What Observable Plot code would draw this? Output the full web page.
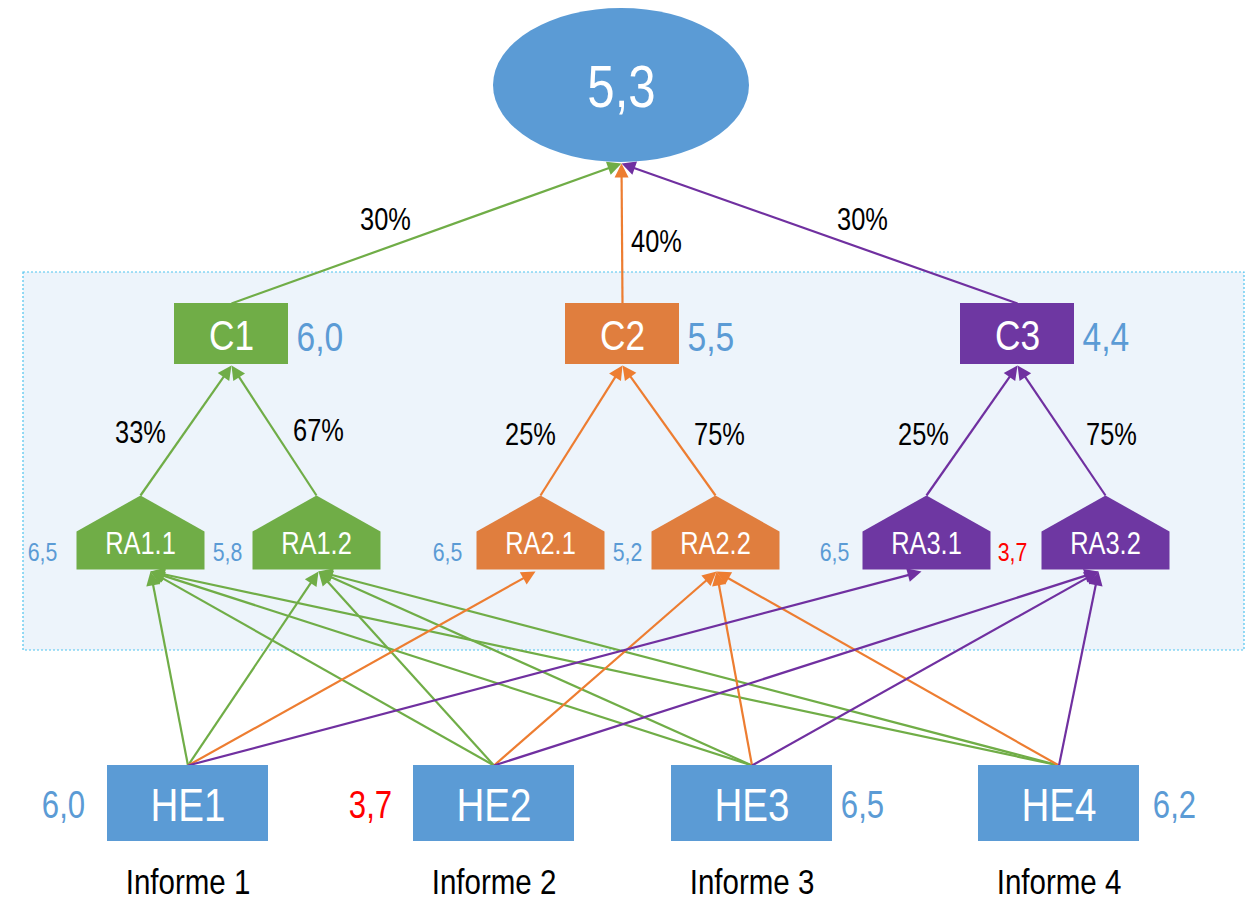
<!DOCTYPE html>
<html><head><meta charset="utf-8">
<script src="https://cdn.jsdelivr.net/npm/d3@7"></script>
<script src="https://cdn.jsdelivr.net/npm/@observablehq/plot@0.6"></script>
<style>
html,body{margin:0;padding:0;background:#fff;}
#chart svg{display:block;}
</style></head><body><div id="chart"></div>
<script>
// ---------------- data ----------------
const totalScore = "5,3";
const criteria = ["C1", "C2", "C3"];
const criteriaScores = ["6,0", "5,5", "4,4"];
const criteriaWeights = ["30%", "40%", "30%"];
const outcomes = ["RA1.1", "RA1.2", "RA2.1", "RA2.2", "RA3.1", "RA3.2"];
const outcomeParents = ["C1", "C1", "C2", "C2", "C3", "C3"];
const outcomeScores = ["6,5", "5,8", "6,5", "5,2", "6,5", "3,7"];
const outcomeWeights = ["33%", "67%", "25%", "75%", "25%", "75%"];
const evidences = ["HE1", "HE2", "HE3", "HE4"];
const evidenceScores = ["6,0", "3,7", "6,5", "6,2"];
const reports = ["Informe 1", "Informe 2", "Informe 3", "Informe 4"];
const evidenceLinks = [
  ["HE1", "RA1.1"], ["HE2", "RA1.1"], ["HE3", "RA1.1"], ["HE4", "RA1.1"],
  ["HE1", "RA1.2"], ["HE2", "RA1.2"], ["HE3", "RA1.2"], ["HE4", "RA1.2"],
  ["HE1", "RA2.1"], ["HE2", "RA2.2"], ["HE3", "RA2.2"], ["HE4", "RA2.2"],
  ["HE1", "RA3.1"], ["HE2", "RA3.2"], ["HE3", "RA3.2"], ["HE4", "RA3.2"]
];
const lowScoreLimit = 4; // scores under this are shown in red

// ---------------- layout & style (pixels) ----------------
const FONT = "'Liberation Sans Narrow', 'Arial Narrow', 'Liberation Sans', Arial, sans-serif";
const NARROW = 0.82; // horizontal condensing of the text (Arial Narrow look)
const lineColor = {C1: "#70AD47", C2: "#ED7D31", C3: "#7030A0"};
const boxColor = {C1: "#70AD47", C2: "#E07E3E", C3: "#6E37A2"};
const blue = "#5B9BD5";
const layout = {
  total: {cx: 621, cy: 85, rx: 128, ry: 77, tipY: 163},
  frame: {x1: 23, x2: 1244, y1: 272, y2: 650},
  C: {cx: {C1: 231, C2: 622, C3: 1017}, w: 114, y1: 303, y2: 364,
      weightPos: {C1: [385, 220], C2: [656, 242], C3: [862, 220]}},
  RA: {cx: {"RA1.1": 140, "RA1.2": 316, "RA2.1": 540, "RA2.2": 715, "RA3.1": 926, "RA3.2": 1105},
       tip: {"RA1.1": 150, "RA1.2": 318, "RA2.1": 535, "RA2.2": 716, "RA3.1": 921, "RA3.2": 1098},
       scoreX: {"RA1.1": 42, "RA1.2": 227, "RA2.1": 447, "RA2.2": 627, "RA3.1": 834, "RA3.2": 1012},
       weightPos: {"RA1.1": [140, 433], "RA1.2": [318, 431], "RA2.1": [530, 435], "RA2.2": [719, 435], "RA3.1": [923, 435], "RA3.2": [1111, 435]},
       w: 128, top: 495, shoulder: 531, bottom: 569},
  HE: {x1: {HE1: 107, HE2: 413, HE3: 671, HE4: 978}, w: 161, y1: 765, y2: 841,
       scoreX: {HE1: 63, HE2: 370, HE3: 862, HE4: 1174}}
};
const headLen = 14, headHalf = 7;

// ---------------- build geometry from data + layout ----------------
const scoreColor = s => (parseFloat(s.replace(",", ".")) < lowScoreLimit ? "#FF0000" : blue);
const heCx = id => layout.HE.x1[id] + layout.HE.w / 2;

const edges = [];
criteria.forEach((c, i) => edges.push({
  id: "T" + c, x1: layout.C.cx[c], y1: layout.C.y1, x2: layout.total.cx, y2: layout.total.tipY,
  color: lineColor[c]
}));
outcomes.forEach((r, i) => edges.push({
  id: "C" + r, x1: layout.RA.cx[r], y1: layout.RA.top, x2: layout.C.cx[outcomeParents[i]], y2: layout.C.y2 + 1,
  color: lineColor[outcomeParents[i]]
}));
evidenceLinks.forEach(([h, r]) => edges.push({
  id: h + r, x1: heCx(h), y1: layout.HE.y1, x2: layout.RA.tip[r], y2: layout.RA.bottom + 2,
  color: lineColor[outcomeParents[outcomes.indexOf(r)]]
}));

const shafts = [], heads = [];
for (const e of edges) {
  const dx = e.x2 - e.x1, dy = e.y2 - e.y1, L = Math.hypot(dx, dy);
  const ux = dx / L, uy = dy / L, nx = -uy, ny = ux;
  const bx = e.x2 - ux * headLen, by = e.y2 - uy * headLen;
  shafts.push({...e, x2: e.x2 - ux * (headLen - 3), y2: e.y2 - uy * (headLen - 3)});
  heads.push({id: e.id, color: e.color, x: e.x2, y: e.y2});
  heads.push({id: e.id, color: e.color, x: bx + nx * headHalf, y: by + ny * headHalf});
  heads.push({id: e.id, color: e.color, x: bx - nx * headHalf, y: by - ny * headHalf});
}

const pentagons = [];
outcomes.forEach((r, i) => {
  const cx = layout.RA.cx[r], hw = layout.RA.w / 2, c = boxColor[outcomeParents[i]];
  [[cx - hw, layout.RA.bottom], [cx - hw, layout.RA.shoulder], [cx, layout.RA.top],
   [cx + hw, layout.RA.shoulder], [cx + hw, layout.RA.bottom]]
    .forEach(([x, y]) => pentagons.push({id: r, color: c, x, y}));
});

const cBoxes = criteria.map((c, i) => ({
  name: c, score: criteriaScores[i], weight: criteriaWeights[i], color: boxColor[c],
  x1: layout.C.cx[c] - layout.C.w / 2, x2: layout.C.cx[c] + layout.C.w / 2,
  y1: layout.C.y1, y2: layout.C.y2, cx: layout.C.cx[c], cy: (layout.C.y1 + layout.C.y2) / 2 + 2,
  wx: layout.C.weightPos[c][0], wy: layout.C.weightPos[c][1]
}));
const raItems = outcomes.map((r, i) => ({
  name: r, score: outcomeScores[i], weight: outcomeWeights[i],
  cx: layout.RA.cx[r], cy: 544, sx: layout.RA.scoreX[r], sy: 552,
  wx: layout.RA.weightPos[r][0], wy: layout.RA.weightPos[r][1]
}));
const heBoxes = evidences.map((h, i) => ({
  name: h, score: evidenceScores[i], report: reports[i],
  x1: layout.HE.x1[h], x2: layout.HE.x1[h] + layout.HE.w, y1: layout.HE.y1, y2: layout.HE.y2,
  cx: heCx(h), cy: 805, sx: layout.HE.scoreX[h]
}));
const T = layout.total;

const chart = Plot.plot({
  width: 1251, height: 900, margin: 0,
  x: {domain: [0, 1251], axis: null},
  y: {domain: [900, 0], axis: null},
  color: {type: "identity"},
  style: {fontFamily: FONT, background: "#fff", overflow: "visible"},
  marks: [
    Plot.rect([layout.frame], {x1: "x1", x2: "x2", y1: "y1", y2: "y2",
      fill: "#EDF4FB", stroke: "#4FC3EF", strokeWidth: 1.2, strokeDasharray: "2,2"}),
    Plot.link(shafts, {x1: "x1", y1: "y1", x2: "x2", y2: "y2", stroke: "color", strokeWidth: 2.2}),
    Plot.line(heads, {x: "x", y: "y", z: "id", fill: "color", stroke: "none", curve: "linear-closed"}),
    // total ellipse
    Plot.rect([T], {x1: d => d.cx - d.rx, x2: d => d.cx + d.rx, y1: d => d.cy - d.ry, y2: d => d.cy + d.ry,
      rx: T.rx, ry: T.ry, fill: blue}),
    Plot.text([totalScore], {x: () => T.cx, y: () => T.cy + 2, text: d => d, fill: "#fff", fontSize: 60}),
    // criteria
    Plot.rect(cBoxes, {x1: "x1", x2: "x2", y1: "y1", y2: "y2", fill: "color"}),
    Plot.text(cBoxes, {x: "cx", y: "cy", text: "name", fill: "#fff", fontSize: 43}),
    Plot.text(cBoxes, {x: d => d.x2 + 8, y: d => d.cy + 2, text: "score", fill: d => scoreColor(d.score), fontSize: 41, textAnchor: "start"}),
    Plot.text(cBoxes, {x: "wx", y: "wy", text: "weight", fill: "#000", fontSize: 31}),
    // outcomes
    Plot.line(pentagons, {x: "x", y: "y", z: "id", fill: "color", stroke: "none", curve: "linear-closed"}),
    Plot.text(raItems, {x: "cx", y: "cy", text: "name", fill: "#fff", fontSize: 31}),
    Plot.text(raItems, {x: "sx", y: "sy", text: "score", fill: d => scoreColor(d.score), fontSize: 26}),
    Plot.text(raItems, {x: "wx", y: "wy", text: "weight", fill: "#000", fontSize: 31}),
    // evidences
    Plot.rect(heBoxes, {x1: "x1", x2: "x2", y1: "y1", y2: "y2", fill: blue}),
    Plot.text(heBoxes, {x: "cx", y: "cy", text: "name", fill: "#fff", fontSize: 47}),
    Plot.text(heBoxes, {x: "sx", y: "cy", text: "score", fill: d => scoreColor(d.score), fontSize: 38}),
    Plot.text(heBoxes, {x: "cx", y: () => 882, text: "report", fill: "#000", fontSize: 36})
  ]
});
// condense all labels horizontally around their anchor (Arial Narrow look)
chart.querySelectorAll("text").forEach(t => {
  const tr = t.getAttribute("transform") || "";
  t.setAttribute("transform", tr + ` scale(${NARROW},1)`);
});
document.getElementById("chart").appendChild(chart);
</script>
</body></html>
